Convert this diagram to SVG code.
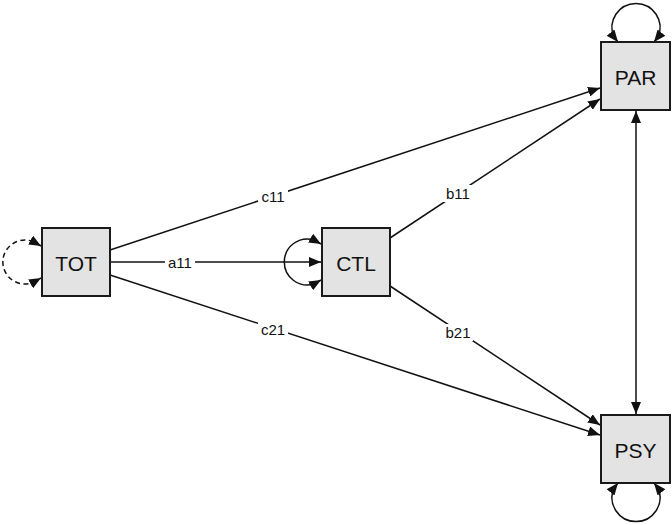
<svg xmlns="http://www.w3.org/2000/svg" width="672" height="525" viewBox="0 0 672 525">
<style>
.box{fill:#e3e3e3;stroke:#1a1a1a;stroke-width:2}
.nt{font-family:"Liberation Sans",Arial,sans-serif;font-size:21px;fill:#111;text-anchor:middle;dominant-baseline:central}
.ln{fill:none;stroke:#111;stroke-width:1.5}
.dash{stroke-dasharray:5,3.5}
.lb{font-family:"Liberation Sans",Arial,sans-serif;font-size:15px;fill:#111;text-anchor:middle;dominant-baseline:central}
.lbg{fill:#fff}
</style>
<defs>
<marker id="ah" viewBox="0 0 12 10" refX="12" refY="5" markerWidth="12" markerHeight="10" markerUnits="userSpaceOnUse" orient="auto-start-reverse">
<path d="M0,0 L12,5 L0,10 Z" fill="#111"/>
</marker>
</defs>
<rect width="672" height="525" fill="#fff"/>
<g id="connectors">
<path class="ln" d="M110,250 L600,88" marker-end="url(#ah)"/>
<path class="ln" d="M110,262 L321,262" marker-end="url(#ah)"/>
<path class="ln" d="M110,275 L600,435" marker-end="url(#ah)"/>
<path class="ln" d="M390,238 L600,99" marker-end="url(#ah)"/>
<path class="ln" d="M390,286 L600,425" marker-end="url(#ah)"/>
<path class="ln" d="M636,111 L636,414" marker-start="url(#ah)" marker-end="url(#ah)"/>
<path class="ln dash" d="M41,246 L34,242 A22,22 0 1 0 34,282 L41,278" marker-start="url(#ah)" marker-end="url(#ah)"/>
<path class="ln" d="M321,244 L314,240 A23,23 0 1 0 314,284 L321,280" marker-start="url(#ah)" marker-end="url(#ah)"/>
<path class="ln" d="M618,42 L614,37 A24,24 0 1 1 658,37 L654,42" marker-start="url(#ah)" marker-end="url(#ah)"/>
<path class="ln" d="M618,483 L614,488 A24,24 0 1 0 658,488 L654,483" marker-start="url(#ah)" marker-end="url(#ah)"/>
<rect class="lbg" x="258" y="188" width="30" height="17"/>
<text class="lb" x="273" y="196">c11</text>
<rect class="lbg" x="165" y="254" width="30" height="17"/>
<text class="lb" x="180" y="262">a11</text>
<rect class="lbg" x="258" y="321" width="30" height="17"/>
<text class="lb" x="273" y="329">c21</text>
<rect class="lbg" x="443" y="185" width="30" height="17"/>
<text class="lb" x="458" y="193">b11</text>
<rect class="lbg" x="443" y="324" width="30" height="17"/>
<text class="lb" x="458" y="332">b21</text>
</g>
<g id="TOT"><rect class="box" x="42" y="228" width="68" height="68"/><text class="nt" x="76" y="263">TOT</text></g>
<g id="CTL"><rect class="box" x="322" y="228" width="68" height="68"/><text class="nt" x="356" y="263">CTL</text></g>
<g id="PAR"><rect class="box" x="601" y="42" width="69" height="68"/><text class="nt" x="635.5" y="77">PAR</text></g>
<g id="PSY"><rect class="box" x="601" y="415" width="69" height="68"/><text class="nt" x="635.5" y="450">PSY</text></g>
</svg>
